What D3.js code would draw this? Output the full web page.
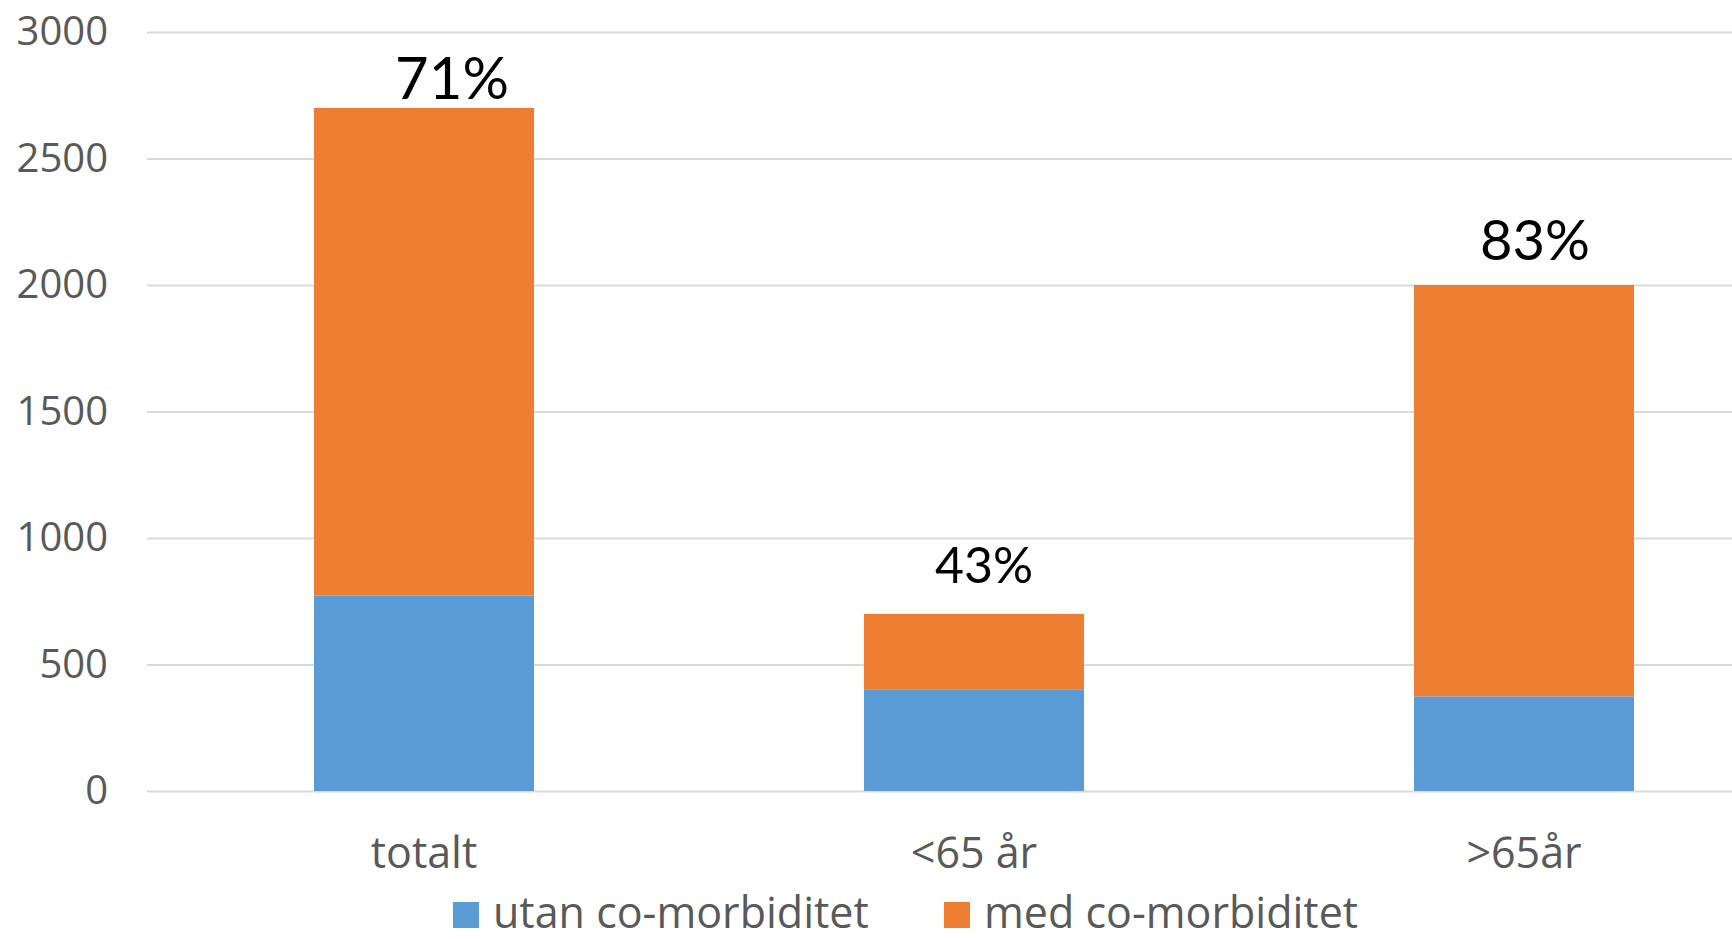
<!DOCTYPE html>
<html>
<head>
<meta charset="utf-8">
<script src="https://cdn.jsdelivr.net/npm/d3@7"></script>
<style>
  body { margin: 0; background: #fff; }
  svg { display: block; font-family: "Open Sans", Lato, sans-serif; }
</style>
</head>
<body>
<div id="chart"></div>
<script>
// values
const categories = ['totalt', '<65 år', '>65år'];
const utan = [772, 400, 374];
const med = [1928, 300, 1626];
const shareLabels = ['71%', '43%', '83%'];
const seriesNames = ['utan co-morbiditet', 'med co-morbiditet'];
const yTicks = [0, 500, 1000, 1500, 2000, 2500, 3000];

const width = 1732;
const height = 939;
const colors = ['#5B9BD5', '#ED7D31'];

const svg = d3.select('#chart')
  .append('svg')
  .attr('width', width)
  .attr('height', height);

const x = d3.scaleBand()
  .domain(categories)
  .range([149, 1799])
  .paddingInner(0.6)
  .paddingOuter(0.3);

const y = d3.scaleLinear()
  .domain([0, 3000])
  .range([791, 32]);

// gridlines + tick labels
const yAxis = svg.append('g')
  .attr('transform', 'translate(147,0)')
  .call(d3.axisLeft(y).tickValues(yTicks).tickSize(-(width - 147)).tickPadding(39).tickFormat(d3.format('d')));
yAxis.select('.domain').remove();
yAxis.selectAll('.tick line').attr('stroke', '#d9d9d9').attr('stroke-width', 2);
yAxis.selectAll('.tick text')
  .attr('fill', '#595959')
  .style('font-family', '"Open Sans", sans-serif')
  .style('font-size', '40px');

// stacked bars
const rows = categories.map((c, i) => ({ cat: c, utan: utan[i], med: med[i] }));
const stack = d3.stack().keys(['utan', 'med'])(rows);

svg.append('g')
  .selectAll('g')
  .data(stack)
  .join('g')
  .attr('fill', (d, i) => colors[i])
  .selectAll('rect')
  .data(d => d)
  .join('rect')
  .attr('x', d => x(d.data.cat))
  .attr('y', d => y(d[1]))
  .attr('width', x.bandwidth())
  .attr('height', d => y(d[0]) - y(d[1]));

// percentage labels above each bar (text boxes in the original sit slightly off-centre)
const labelNudge = [{ dx: 28, gap: 9, size: 58 }, { dx: 10, gap: 31, size: 50 }, { dx: 11, gap: 25, size: 56 }];
svg.append('g')
  .selectAll('text')
  .data(rows)
  .join('text')
  .attr('x', (d, i) => x(d.cat) + x.bandwidth() / 2 + labelNudge[i].dx)
  .attr('y', (d, i) => y(d.utan + d.med) - labelNudge[i].gap)
  .attr('text-anchor', 'middle')
  .attr('fill', '#000')
  .style('font-family', 'Lato, sans-serif')
  .style('font-size', (d, i) => labelNudge[i].size + 'px')
  .text((d, i) => shareLabels[i]);

// category labels
svg.append('g')
  .selectAll('text')
  .data(categories)
  .join('text')
  .attr('x', d => x(d) + x.bandwidth() / 2)
  .attr('y', 868)
  .attr('text-anchor', 'middle')
  .attr('fill', '#595959')
  .style('font-size', '43px')
  .text(d => d);

// legend
const legendX = [453, 944];
const legend = svg.append('g')
  .selectAll('g')
  .data(seriesNames)
  .join('g')
  .attr('transform', (d, i) => `translate(${legendX[i]},0)`);
legend.append('rect')
  .attr('y', 902)
  .attr('width', 26)
  .attr('height', 26)
  .attr('fill', (d, i) => colors[i]);
legend.append('text')
  .attr('x', 40)
  .attr('y', 928)
  .attr('fill', '#595959')
  .style('font-size', '43px')
  .text(d => d);
</script>
</body>
</html>
